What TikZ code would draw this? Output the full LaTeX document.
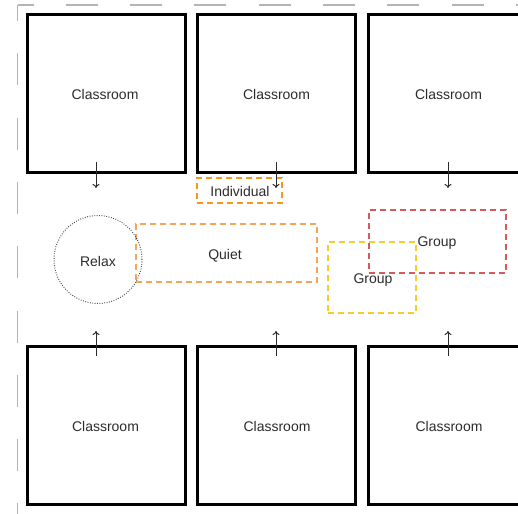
\documentclass[tikz,border=0pt]{standalone}
\usepackage{fontspec}
\setmainfont{Liberation Sans}
\usetikzlibrary{arrows.meta}
\definecolor{txt}{HTML}{2B2B2B}
\definecolor{borderg}{HTML}{B4B4B4}
\definecolor{indor}{HTML}{F39A1E}
\definecolor{quietor}{HTML}{F2A65A}
\definecolor{grpred}{HTML}{D65A5A}
\definecolor{grpyel}{HTML}{F6CD2E}
\tikzset{
  room/.style={draw=black, line width=2.6pt, minimum width=158pt, minimum height=158pt, inner sep=0pt},
  zone/.style={line width=1.3pt, dash pattern=on 6pt off 4pt, inner sep=0pt},
  lbl/.style={font=\fontsize{14}{16}\selectfont, text=txt, inner sep=1pt},
  flow/.style={draw=txt, line width=1pt, -{To[length=4pt,width=7pt]}},
  edge/.style={draw=borderg, line width=1.3pt, dash pattern=on 32pt off 32.3pt, dash phase=16pt}
}
\begin{document}
\begin{tikzpicture}[x=1pt,y=-1pt]
\useasboundingbox (0,0) rectangle (518,513);
\clip (0,0) rectangle (518,513);
% gray dashed edges
\coordinate (corner) at (17.5,5);
\coordinate (topend) at (530,5);
\coordinate (leftend) at (17.5,530);
\draw[edge] (corner) -- (topend);
\draw[edge] (corner) -- (leftend);
% classrooms
\node[room] (c1) at (106.5,93.5) {};
\node[room] (c2) at (276.5,93.5) {};
\node[room] (c3) at (447.5,93.5) {};
\node[room] (c4) at (106.5,425.5) {};
\node[room] (c5) at (276.5,425.5) {};
\node[room] (c6) at (447.5,425.5) {};
\node[lbl] (t1) at (105,94.5) {Classroom};
\node[lbl] (t2) at (276.5,94.5) {Classroom};
\node[lbl] (t3) at (448.5,94.5) {Classroom};
\node[lbl] (t4) at (105.5,426) {Classroom};
\node[lbl] (t5) at (277,426) {Classroom};
\node[lbl] (t6) at (449,426) {Classroom};
% zones
\node[zone, draw=quietor, minimum width=181pt, minimum height=58pt] (quiet) at (226.5,253) {};
\node[lbl] (tq) at (225,256) {Quiet};
\node[draw=black!75, line width=1pt, dash pattern=on 0.8pt off 1.6pt, circle, minimum size=88pt, inner sep=0pt] (relax) at (98,259.5) {};
\node[lbl] (tr) at (98,261.5) {Relax};
\node[zone, draw=indor, minimum width=85pt, minimum height=25pt] (indiv) at (239.5,190.5) {};
\node[lbl] (ti) at (240,191.5) {Individual};
\node[zone, draw=grpyel, minimum width=88pt, minimum height=71pt] (gy) at (372,277.5) {};
\node[zone, draw=grpred, minimum width=137pt, minimum height=63pt] (gr) at (437.5,241.5) {};
\node[lbl] (tg1) at (437,243) {Group};
\node[lbl] (tg2) at (373,280) {Group};
% arrows
\coordinate (a1s) at (96,162); \coordinate (a1e) at (96,188);
\coordinate (a2s) at (276,162); \coordinate (a2e) at (276,188);
\coordinate (a3s) at (448,162); \coordinate (a3e) at (448,188);
\coordinate (b1s) at (96,356); \coordinate (b1e) at (96,331);
\coordinate (b2s) at (276,356); \coordinate (b2e) at (276,331);
\coordinate (b3s) at (448,356); \coordinate (b3e) at (448,331);
\draw[flow] (a1s) -- (a1e);
\draw[flow] (a2s) -- (a2e);
\draw[flow] (a3s) -- (a3e);
\draw[flow] (b1s) -- (b1e);
\draw[flow] (b2s) -- (b2e);
\draw[flow] (b3s) -- (b3e);
\end{tikzpicture}
\end{document}
